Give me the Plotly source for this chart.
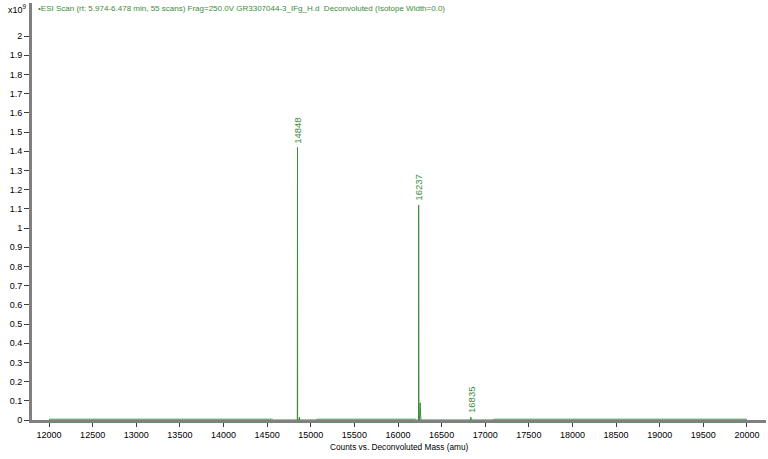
import plotly.graph_objects as go

# Deconvoluted spectrum (intensity in units of 1e9 counts)
mass = [12000, 14560, 14570, 14846, 14847, 14848, 14849, 14850, 14866, 14870, 14874,
        15060, 15070, 16200, 16210, 16235, 16236, 16237, 16238, 16240, 16245, 16254,
        16262, 16830, 16835, 16840, 17090, 17100, 20000]
counts = [0.004, 0.004, 0, 0, 0.75, 1.42, 0.75, 0, 0, 0.015, 0,
          0, 0.004, 0.004, 0, 0, 0.78, 1.12, 0.78, 0, 0, 0.09,
          0, 0, 0.015, 0, 0, 0.004, 0.004]

peak_mass = [14848, 16237, 16835]
peak_height = [1.42, 1.12, 0.015]

x_ticks = list(range(12000, 20001, 500))
y_ticks = [i / 10 for i in range(0, 21)]
y_labels = ['0', '0.1', '0.2', '0.3', '0.4', '0.5', '0.6', '0.7', '0.8', '0.9', '1',
            '1.1', '1.2', '1.3', '1.4', '1.5', '1.6', '1.7', '1.8', '1.9', '2']

green = 'rgb(60,140,60)'
font_family = 'Arial'

fig = go.Figure()
fig.add_trace(go.Scatter(x=mass, y=counts, mode='lines',
                         line=dict(color=green, width=1), hoverinfo='x+y'))

# peak labels, rotated like the instrument software does
for m, h in zip(peak_mass, peak_height):
    fig.add_annotation(x=m, y=h, text=str(m), textangle=-90, showarrow=False,
                       xanchor='center', yanchor='bottom', yshift=2,
                       font=dict(family=font_family, size=9.5, color=green))

fig.add_annotation(xref='paper', yref='paper', x=0.005, y=0.988, xanchor='left', yanchor='middle',
                   text='•ESI Scan (rt: 5.974-6.478 min, 55 scans) Frag=250.0V GR3307044-3_IFg_H.d  '
                        'Deconvoluted (Isotope Width=0.0)',
                   showarrow=False, font=dict(family=font_family, size=8, color=green))
fig.add_annotation(xref='paper', yref='paper', x=-0.035, y=0.985, xanchor='left', yanchor='middle',
                   text='x10<sup>9</sup>', showarrow=False,
                   font=dict(family=font_family, size=9, color='black'))
fig.add_annotation(xref='paper', yref='paper', x=0.5, y=-0.065, xanchor='center', yanchor='middle',
                   text='Counts vs. Deconvoluted Mass (amu)', showarrow=False,
                   font=dict(family=font_family, size=8.3, color='black'))

fig.update_layout(
    width=768, height=459,
    margin=dict(l=32, r=2, t=3, b=39),
    plot_bgcolor='white', paper_bgcolor='white',
    showlegend=False,
    font=dict(family=font_family, size=9, color='black'),
    xaxis=dict(range=[11805, 20218], tickmode='array', tickvals=x_ticks, tickformat='d',
               showgrid=False, zeroline=False, showline=True,
               linecolor='rgb(128,128,128)', linewidth=3,
               ticks='outside', ticklen=4, tickcolor='rgb(60,60,60)'),
    yaxis=dict(range=[0, 2.172], tickmode='array', tickvals=y_ticks, ticktext=y_labels,
               showgrid=False, zeroline=False, showline=True,
               linecolor='rgb(128,128,128)', linewidth=3,
               ticks='outside', ticklen=5, tickcolor='rgb(60,60,60)'),
)

# the page's default body margin would shift the fixed-size figure
fig.write_html("out.html", config={'displayModeBar': False},
               post_script="document.body.style.margin='0';")
